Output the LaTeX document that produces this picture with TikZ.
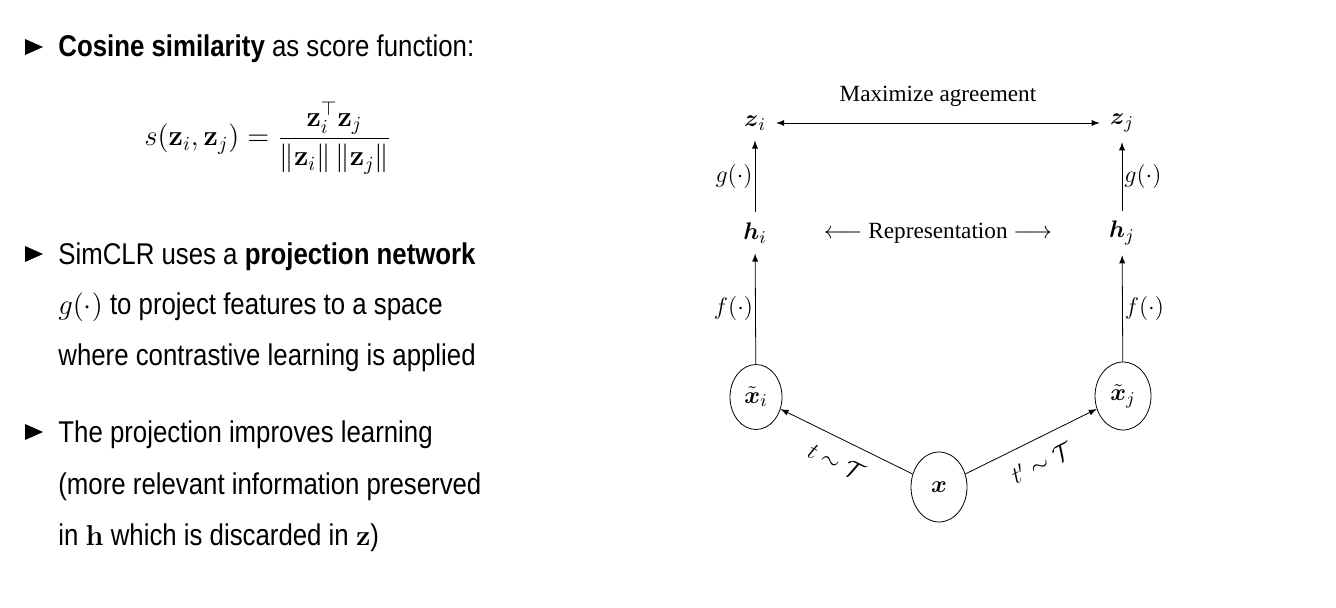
\documentclass[tikz,border=0pt]{standalone}
\usepackage{amsmath}
\usepackage[no-math]{fontspec}
\setmainfont{Liberation Sans}[FakeStretch=0.86]
\newfontfamily\seriff{Liberation Serif}
\usetikzlibrary{shapes.geometric}
\begin{document}
\begin{tikzpicture}[x=0.5pt,y=-0.5pt,>=latex,
  txt/.style={anchor=base west,inner sep=0pt,font=\fontsize{15}{17}\selectfont},
  lab/.style={inner sep=1pt,font=\fontsize{11.6}{14}\selectfont\seriff},
  fn/.style={inner sep=1pt,font=\fontsize{12.5}{15}\selectfont},
  vec/.style={fn,inner sep=5pt},
  blob/.style={ellipse,draw,inner sep=0pt,font=\fontsize{12.5}{15}\selectfont}]
\useasboundingbox (0,0) rectangle (1336,608);
% bullets
\foreach \y in {47,254,432}
  \fill (25,\y-8) -- (43,\y) -- (25,\y+8) -- cycle;
\path
(58,57)  node[txt] (l1) {\textbf{Cosine similarity} as score function:}
(268,138) node[font=\fontsize{14}{17}\selectfont] (eq)
  {$\displaystyle s(\mathbf{z}_i,\mathbf{z}_j)=\frac{\mathbf{z}_i^{\top}\mathbf{z}_j}{\|\mathbf{z}_i\|\,\|\mathbf{z}_j\|}$}
(58,265) node[txt] (l2) {SimCLR uses a \textbf{projection network}}
(58,315) node[txt] (l3) {$g(\cdot)$ to project features to a space}
(58,365) node[txt] (l4) {where contrastive learning is applied}
(58,442) node[txt] (l5) {The projection improves learning}
(58,494) node[txt] (l6) {(more relevant information preserved}
(58,545) node[txt] (l7) {in $\mathbf{h}$ which is discarded in $\mathbf{z}$)};

\path
(755,123)  node[vec] (zi) {$\boldsymbol{z}_i$}
(1122,123) node[vec] (zj) {$\boldsymbol{z}_j$}
(755,233)  node[vec] (hi) {$\boldsymbol{h}_i$}
(1122,233) node[vec] (hj) {$\boldsymbol{h}_j$}
(938,233)  node[lab] (rep) {$\longleftarrow$ Representation $\longrightarrow$}
(756,397)  node[blob,minimum width=26pt,minimum height=32.5pt] (xti) {$\tilde{\boldsymbol{x}}_i$}
(1123,396) node[blob,minimum width=28pt,minimum height=34pt] (xtj) {$\tilde{\boldsymbol{x}}_j$}
(939,487)  node[blob,minimum width=28pt,minimum height=35pt] (x) {$\boldsymbol{x}$};

\draw[<->] (zi)--(zj) node[lab,midway,above=7pt] (ma) {Maximize agreement};
\draw[->] (hi)--(zi) node[fn,midway,left] (gi) {$g(\cdot)$};
\draw[->] (hj)--(zj) node[fn,midway,right] (gj) {$g(\cdot)$};
\draw[->] (xti)--(hi) node[fn,midway,left] (fi) {$f(\cdot)$};
\draw[->] (xtj)--(hj) node[fn,midway,right] (fj) {$f(\cdot)$};
\draw[<-] (xti)--(x) node[lab,midway,sloped,below=6pt] (ti) {$t\sim\mathcal{T}$};
\draw[->] (x)--(xtj) node[lab,midway,sloped,below=6pt] (tj) {$t'\sim\mathcal{T}$};
\end{tikzpicture}
\end{document}
